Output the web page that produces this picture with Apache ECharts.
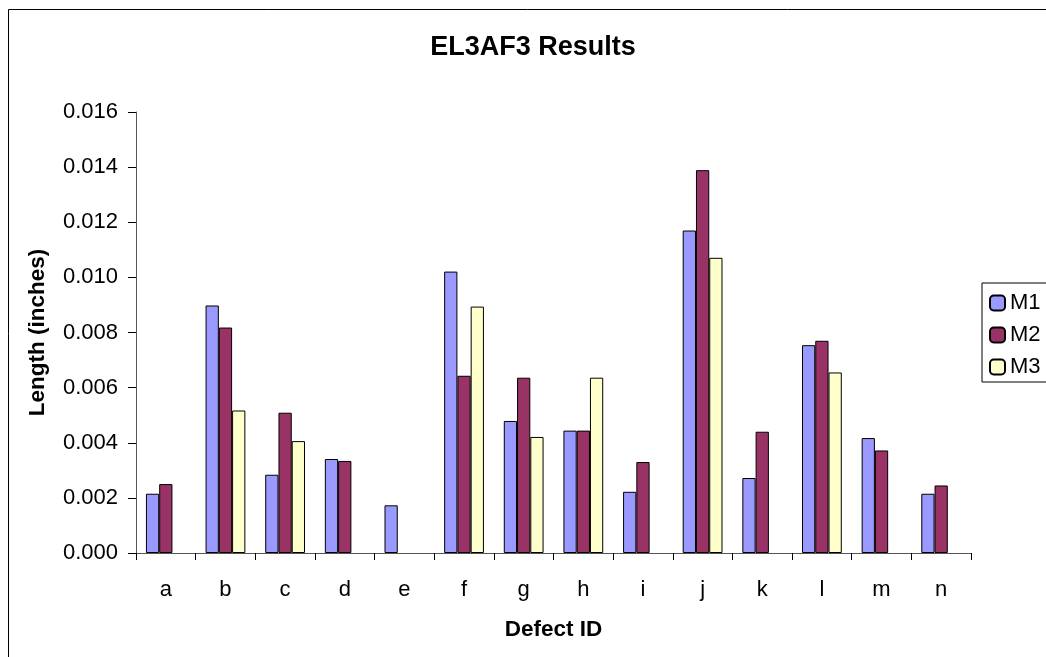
<!DOCTYPE html>
<html>
<head>
<meta charset="utf-8">
<script src="https://cdn.jsdelivr.net/npm/echarts@6/dist/echarts.min.js"></script>
<style>
html,body{margin:0;padding:0;background:#fff;}
#c{width:1046px;height:657px;}
</style>
</head>
<body>
<div id="c"></div>
<script>
var categories = ['a','b','c','d','e','f','g','h','i','j','k','l','m','n'];
var m1 = [0.00215, 0.00898, 0.00284, 0.00341, 0.00173, 0.01021, 0.00479, 0.00444, 0.00222, 0.0117, 0.00272, 0.00754, 0.00417, 0.00215];
var m2 = [0.0025, 0.00818, 0.00509, 0.00334, null, 0.00643, 0.00636, 0.00444, 0.0033, 0.01389, 0.0044, 0.0077, 0.00372, 0.00245];
var m3 = [null, 0.00517, 0.00406, null, null, 0.00894, 0.00421, 0.00636, null, 0.01071, null, 0.00655, null, null];
var seriesNames = ['M1','M2','M3'];
var seriesColors = ['#9999ff','#993366','#ffffcc'];

var FONT = '"Liberation Sans", Arial, sans-serif';
var chart = echarts.init(document.getElementById('c'), null, {renderer:'canvas'});
var data = [m1, m2, m3];
var series = seriesNames.map(function(n, i){
  return {
    name: n, type: 'bar', data: data[i],
    barGap: '0%', barCategoryGap: '33.3%',
    itemStyle: {color: seriesColors[i], borderColor: '#000', borderWidth: 1},
    emphasis: {disabled: true}
  };
});
chart.setOption({
  animation: false,
  backgroundColor: '#fff',
  title: {
    text: 'EL3AF3 Results', left: 528, top: 29, textAlign: 'center',
    textStyle: {fontFamily: FONT, fontSize: 27, fontWeight: 'bold', color: '#000'}
  },
  graphic: [{
    type: 'rect', left: 6, top: 7, silent: true,
    shape: {width: 1100, height: 700},
    style: {fill: 'none', stroke: '#000', lineWidth: 1}
  }],
  legend: {
    orient: 'vertical', left: 982, top: 283,
    padding: [9, 20, 4, 7],
    itemWidth: 15, itemHeight: 15, itemGap: 10,
    borderColor: '#000', borderWidth: 1,
    textStyle: {fontFamily: FONT, fontSize: 22, color: '#000'},
    data: seriesNames
  },
  grid: {left: 136, right: 75, top: 112, bottom: 104, containLabel: false},
  xAxis: {
    type: 'category', data: categories,
    name: 'Defect ID', nameLocation: 'middle', nameGap: 65,
    nameTextStyle: {fontFamily: FONT, fontSize: 22.5, fontWeight: 'bold', color: '#000'},
    axisLine: {lineStyle: {color: '#555', width: 1}},
    axisTick: {show: true, length: 7, alignWithLabel: false, lineStyle: {color: '#000'}},
    axisLabel: {fontFamily: FONT, fontSize: 22, color: '#000', margin: 26}
  },
  yAxis: {
    type: 'value', min: 0, max: 0.016, interval: 0.002,
    name: 'Length (inches)', nameLocation: 'middle', nameGap: 87, nameRotate: 90,
    nameTextStyle: {fontFamily: FONT, fontSize: 22.5, fontWeight: 'bold', color: '#000'},
    axisLine: {show: true, lineStyle: {color: '#555', width: 1}},
    axisTick: {show: true, length: 8, lineStyle: {color: '#000'}},
    splitLine: {show: false},
    axisLabel: {fontFamily: FONT, fontSize: 22, color: '#000', margin: 18,
      formatter: function(v){ return v.toFixed(3); }}
  },
  series: series
});
</script>
</body>
</html>
